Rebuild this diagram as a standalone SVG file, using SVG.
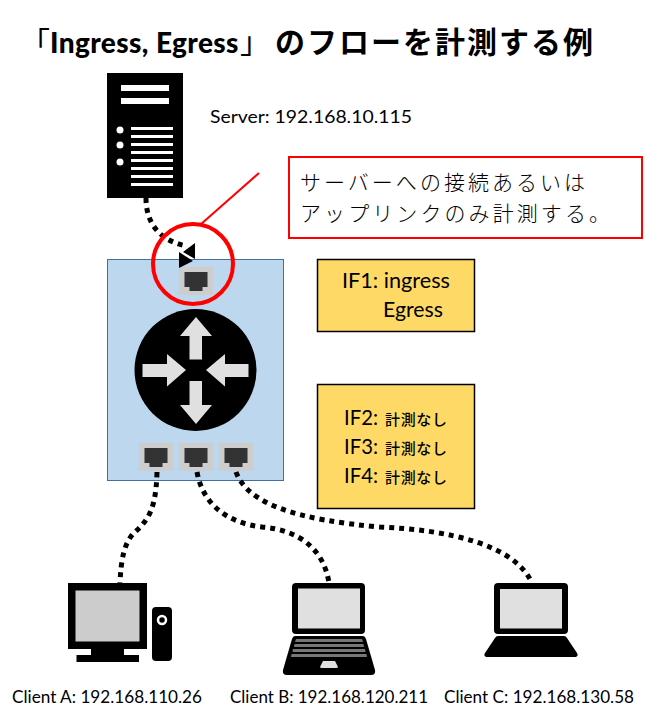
<svg xmlns="http://www.w3.org/2000/svg" width="660" height="720" viewBox="0 0 660 720">
<style>
text{font-family:"Lato","Noto Sans CJK JP",sans-serif;fill:#000}
.lb{font-size:17px}
.if{font-size:21px}
.ja{font-size:15px;font-family:"Noto Sans CJK JP",sans-serif;font-weight:500}
.co{font-family:"Noto Sans CJK JP",sans-serif;font-size:21px;font-weight:300}
.tt{font-size:30px;font-weight:700}
.cj{font-family:"Noto Sans CJK JP",sans-serif}
.box{fill:#ffd966;stroke:#000;stroke-width:1.5}
.conn{fill:none;stroke:#000;stroke-width:5;stroke-dasharray:5 5}
.wb{fill:#fff}
.pb{fill:#cdcdcd}
.pd{fill:#333}
</style>
<defs>
<g id="port"><rect class="pb" width="34" height="28"/><path class="pd" d="M5.500 5h23v15h-5v4h-13v-4h-5z"/></g>
</defs>
<rect width="660" height="720" fill="#fff"/>
<g id="title">
<text class="tt cj" x="20" y="53" font-weight="400" style="font-weight:400">「</text>
<text class="tt" x="50" y="53" style="font-size:28px;font-weight:900;letter-spacing:.4px">Ingress, Egress</text>
<text class="tt cj" x="240" y="53" style="font-weight:400">」</text>
<text class="tt cj" x="275" y="53" textLength="318">のフローを計測する例</text>
</g>
<g id="server">
<rect x="107" y="73" width="76" height="125" fill="#000"/>
<path class="wb" d="M121 85h48v6h-48zM121 98h48v6h-48zM131 127h42v3h-42zM131 135h42v3h-42zM131 143h42v3h-42zM131 151h42v3h-42zM131 159h42v3h-42zM131 167h42v3h-42zM131 175h42v3h-42zM131 183h42v3h-42z"/>
<circle class="wb" cx="120" cy="130" r="3.500"/><circle class="wb" cx="120" cy="145" r="3.500"/><circle class="wb" cx="120" cy="162" r="3.500"/>
<text class="lb" x="210" y="123" textLength="202" lengthAdjust="spacingAndGlyphs">Server: 192.168.10.115</text>
</g>
<g id="router">
<rect x="107.500" y="259.500" width="176" height="221" fill="#bdd7ee" stroke="#41719c" stroke-width="1"/>
<circle cx="195.500" cy="370" r="61" fill="#000"/>
<path fill="#e0e0e0" d="M196 317l16 19h-10v23.500h-12.500v-23.500h-9.500zM196 424l16-19h-10v-24h-12.500v24h-9.500zM186 370l-19-16v10h-24.500v13h24.500v9.500zM206 370l19-16v10h23.500v13h-23.500v9.500z"/>
<use href="#port" x="179" y="267"/>
<use href="#port" x="139" y="443"/>
<use href="#port" x="179" y="443"/>
<use href="#port" x="219" y="443"/>
</g>
<g id="connectors">
<path class="conn" d="M146 198C146 222 158 240 186 246"/>
<path d="M195 243v16l-12-7zM179 252l14 9-14 7z" fill="#000"/>
<path class="conn" d="M157 472C156 510 148 520 135 532C124 542 121 560 120 583"/>
<path class="conn" d="M197 472C203 505 228 523 262 527C300 530 324 550 329 583"/>
<path class="conn" d="M236 472C248 505 300 520 380 527C450 530 515 545 532 583"/>
</g>
<g id="highlight">
<ellipse cx="193" cy="264" rx="40" ry="40" fill="none" stroke="#f00" stroke-width="4"/>
<path d="M259 173L200 225" fill="none" stroke="#f00" stroke-width="2"/>
</g>
<g id="callout">
<rect x="289" y="157" width="353" height="81" fill="#fff" stroke="#f00" stroke-width="2"/>
<text class="co" x="300" y="190" textLength="285">サーバーへの接続あるいは</text>
<text class="co" x="300" y="221" textLength="310">アップリンクのみ計測する。</text>
</g>
<g id="if1">
<rect class="box" x="317.500" y="259.500" width="157" height="72"/>
<text class="if" x="342" y="288" textLength="108" lengthAdjust="spacingAndGlyphs">IF1: ingress</text>
<text class="if" x="383" y="317" textLength="60" lengthAdjust="spacingAndGlyphs">Egress</text>
</g>
<g id="if2">
<rect class="box" x="317.500" y="384.500" width="157" height="124"/>
<text class="if" x="344" y="425" textLength="34" lengthAdjust="spacingAndGlyphs">IF2:</text><text class="ja" x="385" y="425" textLength="62">計測なし</text>
<text class="if" x="344" y="454" textLength="34" lengthAdjust="spacingAndGlyphs">IF3:</text><text class="ja" x="385" y="454" textLength="62">計測なし</text>
<text class="if" x="344" y="483" textLength="34" lengthAdjust="spacingAndGlyphs">IF4:</text><text class="ja" x="385" y="483" textLength="62">計測なし</text>
</g>
<g id="client-a">
<rect x="68" y="583" width="79" height="66" fill="#000"/>
<rect x="75.500" y="590.500" width="64" height="51" fill="#ccc"/>
<path d="M91 649h33v6h15v7h-62.500v-7h14.500z" fill="#000"/>
<rect x="152" y="607" width="20" height="54" rx="4" fill="#000"/>
<circle cx="162" cy="620" r="4" fill="#000" stroke="#fff" stroke-width="2.500"/>
<text class="lb" x="12" y="703" textLength="190" lengthAdjust="spacingAndGlyphs">Client A: 192.168.110.26</text>
</g>
<g id="client-b">
<rect x="292" y="583" width="73" height="51" rx="4" fill="#000"/>
<rect x="298" y="588.500" width="62" height="40" fill="#e0e0e0"/>
<path d="M295 636h68q2 0 3 3l9 31q1 5-4 5h-84q-5 0-4-5l9-31q1-3 3-3z" fill="#000"/>
<path d="M296 639h66l1 3h-68zM294.500 644h69l.5 3h-70zM293 649h72l.5 3h-73zM291.500 654h75l.5 3h-76z" fill="#777"/>
<path d="M323 661h12l3 6q0 1-2 1h-14q-2 0-2-1z" fill="#e0e0e0"/>
<text class="lb" x="230" y="703" textLength="198" lengthAdjust="spacingAndGlyphs">Client B: 192.168.120.211</text>
</g>
<g id="client-c">
<rect x="494" y="583" width="74" height="51" rx="4" fill="#000"/>
<rect x="500" y="589" width="62" height="39.500" fill="#e0e0e0"/>
<path d="M498 636h66q2 0 3 2l10 15q2 4-3 4h-86q-5 0-3-4l10-15q1-2 3-2z" fill="#000"/>
<text class="lb" x="444" y="703" textLength="190" lengthAdjust="spacingAndGlyphs">Client C: 192.168.130.58</text>
</g>
</svg>
